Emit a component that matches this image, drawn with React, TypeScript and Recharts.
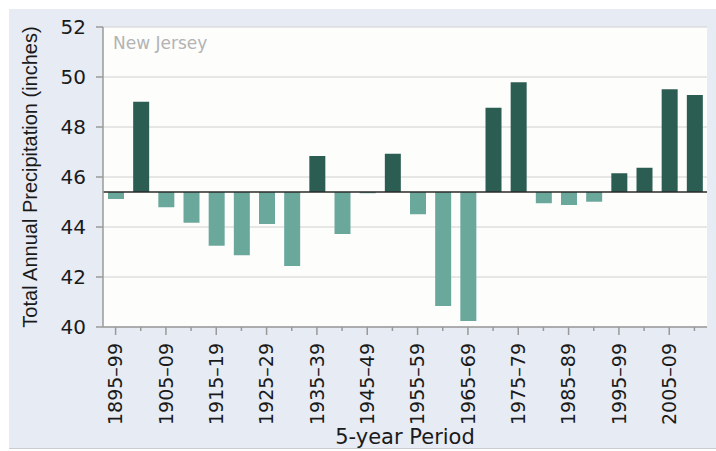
import React from 'react';
import {
  BarChart,
  Bar,
  Cell,
  XAxis,
  YAxis,
  CartesianGrid,
  ReferenceLine
} from 'recharts';

const periods = [
  '1895–99', '1900–04', '1905–09', '1910–14', '1915–19', '1920–24',
  '1925–29', '1930–34', '1935–39', '1940–44', '1945–49', '1950–54',
  '1955–59', '1960–64', '1965–69', '1970–74', '1975–79', '1980–84',
  '1985–89', '1990–94', '1995–99', '2000–04', '2005–09', '2010–14'
];

const precipitation = [
  45.12, 49.01, 44.79, 44.17, 43.25, 42.87, 44.12, 42.44, 46.84, 43.72,
  45.35, 46.93, 44.51, 40.84, 40.24, 48.77, 49.79, 44.95, 44.88, 45.01,
  46.15, 46.37, 49.51, 49.28
];

const yTicks = [40, 42, 44, 46, 48, 50, 52];

// long-term average the bars hang from
const BASELINE = 45.4;

const ABOVE = '#2c5d53';
const BELOW = '#6ba89c';
const AXIS_GRAY = '#9a9a9a';

const data = periods.map((period, i) => ({ period, value: precipitation[i] }));

const PeriodTick = (props: any) => {
  const { x, y, payload, index } = props;
  const labelled = index % 2 === 0;
  return (
    <g>
      <line x1={x} y1={y} x2={x} y2={y + (labelled ? 8 : 4)} stroke={AXIS_GRAY} strokeWidth={1.5} />
      {labelled && (
        <text
          x={x}
          y={y + 16}
          dy="0.36em"
          transform={`rotate(-90, ${x}, ${y + 16})`}
          textAnchor="end"
          fontSize={19}
          fontFamily="'DejaVu Sans', sans-serif"
          fill="#1a1a1a"
        >
          {payload.value}
        </text>
      )}
    </g>
  );
};

export default function App() {
  return (
    <div style={{ position: 'absolute', left: 0, top: 0, width: 716, height: 451, background: '#fff' }}>
      <div
        style={{
          position: 'absolute',
          left: 9,
          top: 9,
          width: 707,
          height: 439,
          background: '#e6ebf4',
          borderBottom: '1px solid #c9ccd2'
        }}
      />
      <div style={{ position: 'absolute', left: 0, top: 0 }}>
        <BarChart
          width={716}
          height={451}
          data={data}
          margin={{ top: 27, right: 9, left: 0, bottom: 0 }}
          barSize={16}
        >
          <CartesianGrid horizontal vertical={false} stroke="#d0d0d0" fill="#fdfdfc" />
          <XAxis
            dataKey="period"
            interval={0}
            height={124}
            tickLine={false}
            tickSize={0}
            tickMargin={0}
            axisLine={{ stroke: AXIS_GRAY, strokeWidth: 1.5 }}
            tick={<PeriodTick />}
            label={{
              value: '5-year Period',
              position: 'insideBottom',
              offset: 7,
              fontSize: 21,
              fontFamily: "'DejaVu Sans', sans-serif",
              fill: '#1a1a1a'
            }}
          />
          <XAxis xAxisId="top" dataKey="period" orientation="top" height={0} tick={false} tickLine={false} axisLine={{ stroke: AXIS_GRAY, strokeWidth: 1.5 }} />
          <YAxis
            domain={[40, 52]}
            ticks={yTicks}
            width={103}
            tickSize={7}
            tickMargin={10}
            tickLine={{ stroke: AXIS_GRAY, strokeWidth: 1.5 }}
            axisLine={{ stroke: AXIS_GRAY, strokeWidth: 1.5 }}
            tick={{ fontSize: 20, fontFamily: "'DejaVu Sans', sans-serif", fill: '#1a1a1a' }}
            label={{
              value: 'Total Annual Precipitation (inches)',
              angle: -90,
              position: 'insideLeft',
              offset: 30,
              fontSize: 20,
              fontFamily: "'Liberation Sans', Arial, sans-serif",
              fill: '#1a1a1a',
              style: { textAnchor: 'middle' }
            }}
          />
          <YAxis yAxisId="right" orientation="right" width={0} tick={false} tickLine={false} axisLine={{ stroke: AXIS_GRAY, strokeWidth: 1.5 }} />
          <Bar
            dataKey={(d: any) => [Math.min(BASELINE, d.value), Math.max(BASELINE, d.value)]}
            isAnimationActive={false}
          >
            {data.map((d, i) => (
              <Cell key={`cell-${i}`} fill={d.value >= BASELINE ? ABOVE : BELOW} />
            ))}
          </Bar>
          <ReferenceLine y={BASELINE} stroke="#2a2a2a" strokeWidth={1.5} />
          <ReferenceLine
            y={52}
            stroke="none"
            label={{
              value: 'New Jersey',
              position: 'insideTopLeft',
              offset: 10,
              fontSize: 17,
              fontFamily: "'DejaVu Sans', sans-serif",
              fill: '#b3b3b3'
            }}
          />
        </BarChart>
      </div>
    </div>
  );
}
